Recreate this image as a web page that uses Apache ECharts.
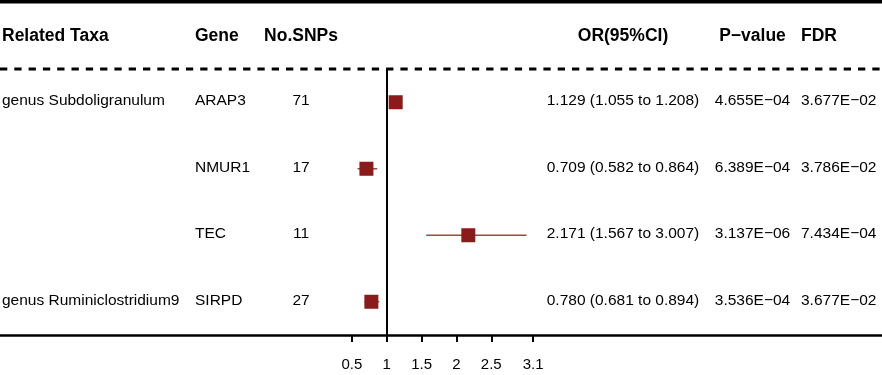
<!DOCTYPE html>
<html>
<head>
<meta charset="utf-8">
<style>
    html, body { margin: 0; padding: 0; background: #fff; }
    #chart { width: 882px; height: 375px; }
</style>
<script src="https://cdn.jsdelivr.net/npm/echarts@6/dist/echarts.min.js"></script>
</head>
<body>
<div id="chart"></div>
<script>
    // table data, one entry per row
    var taxa = ['genus Subdoligranulum', '', '', 'genus Ruminiclostridium9'];
    var genes = ['ARAP3', 'NMUR1', 'TEC', 'SIRPD'];
    var nSnps = [71, 17, 11, 27];
    var orVal = [1.129, 0.709, 2.171, 0.780];
    var orLow = [1.055, 0.582, 1.567, 0.681];
    var orHigh = [1.208, 0.864, 3.007, 0.894];
    var pValue = ['4.655E\u221204', '6.389E\u221204', '3.137E\u221206', '3.536E\u221204'];
    var fdr = ['3.677E\u221202', '3.786E\u221202', '7.434E\u221204', '3.677E\u221202'];
    var headers = ['Related Taxa', 'Gene', 'No.SNPs', 'OR(95%CI)', 'P\u2212value', 'FDR'];
    var xTicks = [0.5, 1, 1.5, 2, 2.5, 3.1];

    var FONT = '"Liberation Sans", Arial, sans-serif';
    // column layout (pixels)
    var cols = [
        {x: 2, align: 'left'},
        {x: 195, align: 'left'},
        {x: 301, align: 'center'},
        {x: 623, align: 'center'},
        {x: 752.5, align: 'center'},
        {x: 801, align: 'left'}
    ];

    var rowText = function (i) {
        return [
            taxa[i],
            genes[i],
            String(nSnps[i]),
            orVal[i].toFixed(3) + ' (' + orLow[i].toFixed(3) + ' to ' + orHigh[i].toFixed(3) + ')',
            pValue[i],
            fdr[i]
        ];
    };

    var chart = echarts.init(document.getElementById('chart'), null, {renderer: 'canvas'});

    var graphics = [
        {type: 'rect', shape: {x: 0, y: 0, width: 882, height: 3.5}, style: {fill: '#000'}, silent: true},
        {type: 'line', shape: {x1: 0, y1: 69, x2: 882, y2: 69},
            style: {stroke: '#000', lineWidth: 3, lineDash: [7.3, 7]}, silent: true}
    ];
    var i;
    for (i = 0; i < headers.length; i++) {
        graphics.push({
            type: 'text', x: cols[i].x, y: 36, silent: true,
            style: {
                text: headers[i], fill: '#000', align: cols[i].align, verticalAlign: 'middle',
                font: 'bold 17.5px ' + FONT
            }
        });
    }

    var rows = genes.map(function (g, idx) { return idx; });

    var option = {
        animation: false,
        backgroundColor: '#fff',
        grid: {left: 0, right: 0, top: 69, bottom: 40, containLabel: false},
        xAxis: {
            type: 'value',
            min: -4.548,
            max: 8.106,
            splitLine: {show: false},
            axisLine: {show: true, onZero: false, lineStyle: {color: '#000', width: 2.5}},
            axisTick: {show: true, customValues: xTicks, length: 7, lineStyle: {color: '#000', width: 2}},
            axisLabel: {
                show: true, customValues: xTicks, margin: 22, color: '#000',
                fontSize: 15, fontFamily: FONT,
                formatter: function (v) { return String(v); }
            }
        },
        yAxis: {
            type: 'category',
            data: genes,
            inverse: true,
            show: false
        },
        graphic: graphics,
        series: [
            {
                // table cells
                type: 'custom',
                silent: true,
                data: rows,
                renderItem: function (params, api) {
                    var idx = api.value(0);
                    var y = api.coord([1, idx])[1] - 1.5;
                    var texts = rowText(idx);
                    var children = texts.map(function (t, c) {
                        return {
                            type: 'text', x: cols[c].x, y: y,
                            style: {
                                text: t, fill: '#000', align: cols[c].align, verticalAlign: 'middle',
                                font: '15.5px ' + FONT
                            }
                        };
                    });
                    return {type: 'group', children: children};
                },
                encode: {x: -1, y: 0}
            },
            {
                // confidence intervals
                type: 'custom',
                silent: true,
                z: 3,
                data: rows.map(function (idx) { return [orLow[idx], orHigh[idx], idx]; }),
                renderItem: function (params, api) {
                    var p1 = api.coord([api.value(0), api.value(2)]);
                    var p2 = api.coord([api.value(1), api.value(2)]);
                    return {
                        type: 'line',
                        shape: {x1: p1[0], y1: p1[1], x2: p2[0], y2: p2[1]},
                        style: {stroke: '#a34545', lineWidth: 1.5}
                    };
                },
                encode: {x: [0, 1], y: 2}
            },
            {
                type: 'scatter',
                silent: true,
                z: 4,
                symbol: 'rect',
                symbolSize: 14,
                itemStyle: {color: '#8b1a1a', opacity: 1},
                data: rows.map(function (idx) { return [orVal[idx], idx]; }),
                markLine: {
                    silent: true,
                    symbol: 'none',
                    label: {show: false},
                    lineStyle: {color: '#000', type: 'solid', width: 2},
                    data: [{xAxis: 1}]
                }
            }
        ]
    };

    chart.setOption(option);
</script>
</body>
</html>
